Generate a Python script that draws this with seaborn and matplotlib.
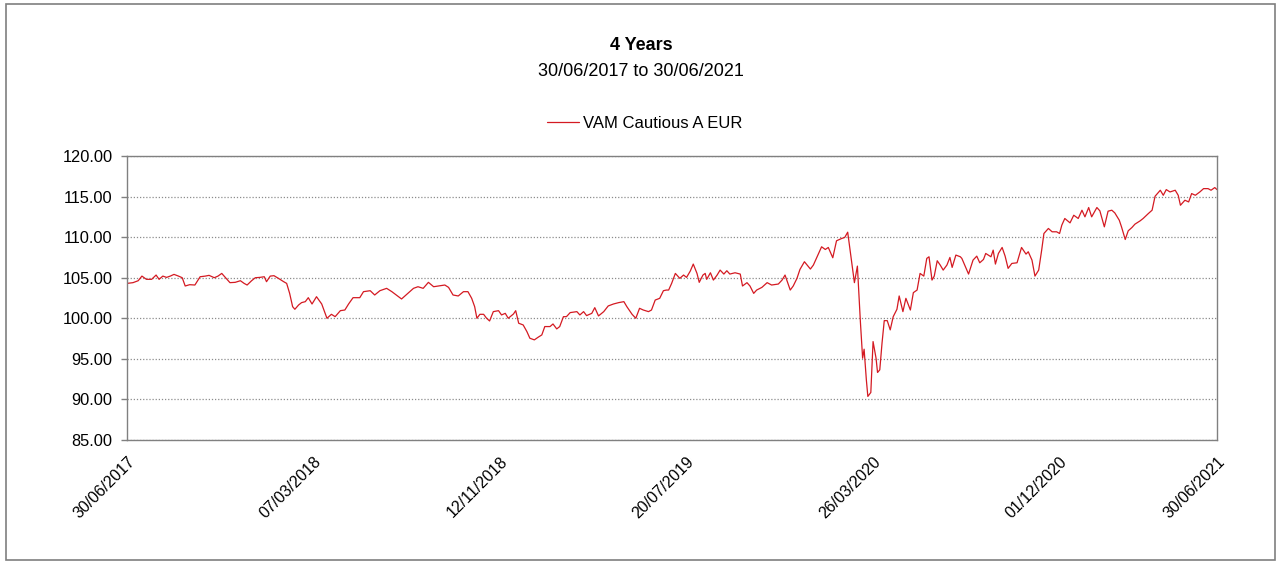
import matplotlib
matplotlib.use("Agg")
import matplotlib.pyplot as plt
from matplotlib.patches import Rectangle
import seaborn as sns
import pandas as pd

# series: days since start date and price
start_date = "2017-06-30"
end_date = "2021-06-30"

day_offsets = [
    0, 8, 15, 20, 26, 33, 39, 43, 48, 53, 58, 63, 69, 74, 78, 84, 91, 98, 105, 110,
    117, 122, 127, 131, 138, 145, 152, 157, 161, 167, 172, 178, 184, 187, 192, 197, 203, 210, 214, 218,
    222, 225, 230, 234, 239, 243,
    248, 254, 261, 268, 274, 279, 286, 292, 297, 303, 312, 317, 326, 332, 339, 348, 355, 362, 368, 375,
    384, 390, 397, 404, 411, 420, 426, 431, 437, 444, 451, 457, 462, 466, 469, 473, 478, 482, 486,
    491, 498, 502, 507, 511, 518, 521, 525, 531, 536, 540, 546, 551, 556, 560, 567, 571, 576, 580, 585,
    589, 594, 603, 607, 612, 616, 623, 627, 632, 639, 645, 652, 659, 666, 670, 677, 682, 687, 692, 699,
    703, 708, 714, 719, 723,
    726, 730, 735, 741, 746, 750, 755, 759, 764, 767, 772, 775, 777, 782, 786, 791, 795, 800, 804, 808,
    815, 822, 825, 831, 835, 840, 844, 851, 858, 864, 873, 878, 882, 889, 893, 898, 902, 908, 916, 920,
    925, 931, 936, 940, 946, 951, 958, 962, 966,
    971, 975, 979, 983, 986, 988, 991, 993, 997, 1000, 1004, 1006, 1009, 1012, 1015, 1019, 1023, 1027, 1032, 1035,
    1040, 1044, 1050, 1054, 1059, 1063, 1068, 1072, 1075, 1079, 1082, 1086,
    1090, 1094, 1099, 1103, 1106, 1111, 1117, 1119, 1128, 1134, 1139, 1143, 1148, 1151, 1158, 1161, 1164, 1168, 1173, 1177,
    1181, 1186, 1193, 1199, 1205, 1208, 1213, 1217, 1222, 1226, 1229, 1235, 1240, 1246, 1250, 1253, 1257, 1264, 1269, 1275,
    1280, 1284, 1289, 1293, 1300, 1304, 1310, 1315, 1320, 1324, 1330, 1333, 1338, 1342, 1347, 1351, 1358, 1362, 1369, 1374,
    1378, 1385, 1389, 1393, 1398, 1405, 1409, 1412, 1418, 1423, 1427, 1432, 1438, 1443, 1449, 1453, 1458, 1461,
]

nav_values = [
    104.30, 104.39, 104.63, 105.20, 104.80, 104.80, 105.33, 104.80, 105.20, 105.04,
    105.20, 105.41, 105.20, 105.00, 103.98, 104.14, 104.10, 105.12, 105.20, 105.29,
    105.00, 105.20, 105.53, 105.12, 104.39, 104.43, 104.63, 104.30, 104.10, 104.63,
    105.00, 105.04, 105.12, 104.51, 105.20, 105.25, 104.92, 104.51, 104.30, 103.07,
    101.43, 101.11, 101.64, 101.93, 102.05, 102.54,
    101.76, 102.66, 101.76, 100.00, 100.49, 100.20, 100.94, 101.02, 101.76, 102.54,
    102.54, 103.28, 103.40, 102.87, 103.40, 103.69, 103.28, 102.79, 102.38, 102.95,
    103.69, 103.89, 103.69, 104.43, 103.89, 104.02, 104.10, 103.81, 102.87, 102.75,
    103.28, 103.28, 102.46, 101.43, 100.00, 100.49, 100.49, 100.00, 99.67,
    100.82, 100.94, 100.41, 100.61, 100.00, 100.53, 100.94, 99.39, 99.18, 98.36,
    97.54, 97.34, 97.66, 97.95, 98.98, 98.98, 99.30, 98.69, 98.98, 100.20,
    100.20, 100.70, 100.82, 100.41, 100.82, 100.33, 100.61, 101.31, 100.29, 100.82,
    101.52, 101.76, 101.93, 102.05, 101.43, 100.49, 100.00, 101.23, 101.02, 100.82,
    101.02, 102.25, 102.46, 103.40, 103.48,
    103.48, 104.30, 105.53, 104.92, 105.33, 105.04, 105.82, 106.68, 105.53, 104.43,
    105.33, 105.53, 104.80, 105.61, 104.71, 105.33, 105.94, 105.45, 105.86, 105.45,
    105.61, 105.45, 103.98, 104.39, 103.98, 103.07, 103.48, 103.81, 104.39, 104.10,
    104.22, 104.71, 105.33, 103.48, 103.98, 104.92, 106.02, 106.97, 106.07, 106.56,
    107.58, 108.81, 108.48, 108.73, 107.46, 109.55, 109.84, 109.96, 110.61,
    107.17, 104.39, 106.43, 99.59, 95.08, 96.19, 92.42, 90.37, 90.86, 97.13,
    95.08, 93.32, 93.65, 96.93, 99.71, 99.71, 98.57, 100.20, 101.11, 102.75,
    100.82, 102.46, 101.02, 103.16, 103.48, 105.53, 105.20, 107.38, 107.58, 104.71,
    105.20, 107.09,
    106.56, 105.94, 106.56, 107.50, 106.27, 107.79, 107.58, 107.38, 105.45, 107.17,
    107.66, 106.84, 107.25, 107.99, 107.58, 108.40, 106.68, 107.99, 108.73, 107.66,
    106.15, 106.76, 106.84, 108.73, 107.91, 108.20, 107.17, 105.20, 105.94, 108.40,
    110.45, 111.07, 110.66, 110.66, 110.45, 111.48, 112.30, 111.76, 112.70, 112.30,
    113.32, 112.50, 113.65, 112.50, 113.65, 113.24, 111.27, 113.20, 113.32, 112.99,
    112.09, 111.27, 109.71, 110.78, 111.19, 111.60, 112.01, 112.30, 112.91, 113.32,
    115.04, 115.78, 115.16, 115.86, 115.57, 115.78, 115.16, 113.93, 114.55, 114.34,
    115.37, 115.16, 115.57, 115.98, 115.98, 115.78, 116.11, 115.86,
]

y_ticks = [85, 90, 95, 100, 105, 110, 115, 120]
x_tick_labels = ["30/06/2017", "07/03/2018", "12/11/2018", "20/07/2019",
                 "26/03/2020", "01/12/2020", "30/06/2021"]

series_name = "VAM Cautious A EUR"
title = "4 Years"
subtitle = "30/06/2017 to 30/06/2021"

sns.set_theme(style="white")
plt.rcParams["font.family"] = ["Liberation Sans", "DejaVu Sans"]
plt.rcParams["text.color"] = "black"

df = pd.DataFrame({
    "Date": pd.Timestamp(start_date) + pd.to_timedelta(day_offsets, unit="D"),
    "Value": nav_values,
})

W, H = 1282, 564
fig = plt.figure(figsize=(W / 100, H / 100), dpi=100)
fig.patch.set_facecolor("white")

# outer frame
fig.patches.append(Rectangle((6 / W, 1 - 560 / H), 1269 / W, 556 / H,
                             transform=fig.transFigure, fill=False,
                             edgecolor="#7f7f7f", linewidth=1.2))

ax = fig.add_axes([127 / W, 1 - 440 / H, 1090 / W, 284 / H])

sns.lineplot(data=df, x="Date", y="Value", ax=ax, color="#d41a22",
             linewidth=0.9, label=series_name, legend=False)

ax.set_xlim(pd.Timestamp(start_date), pd.Timestamp(end_date))
ax.set_ylim(y_ticks[0], y_ticks[-1])
ax.set_yticks(y_ticks)
ax.set_yticklabels([f"{v:.2f}" for v in y_ticks], fontsize=11.8, color="black")

tick_dates = pd.to_datetime(x_tick_labels, dayfirst=True)
ax.set_xticks(tick_dates)
ax.set_xticklabels(x_tick_labels, rotation=45, ha="right", va="top",
                   rotation_mode="anchor", fontsize=11.5, color="black")

ax.set_xlabel("")
ax.set_ylabel("")

ax.yaxis.grid(True, linestyle=(0, (1, 1.5)), color="#8c8c8c", linewidth=0.9)
ax.xaxis.grid(False)
for side in ["left", "right", "top", "bottom"]:
    ax.spines[side].set_visible(True)
    ax.spines[side].set_color("#808080")
    ax.spines[side].set_linewidth(1.0)

ax.tick_params(axis="y", which="major", direction="out", length=4,
               color="#808080", width=1, pad=6.5, left=True)
ax.tick_params(axis="x", which="major", length=0, pad=10, bottom=False)

fig.text(641 / W, 1 - 45 / H, title, ha="center", va="center",
         fontsize=13, fontweight="bold")
fig.text(641 / W, 1 - 71 / H, subtitle, ha="center", va="center", fontsize=13)

handles, labels = ax.get_legend_handles_labels()
fig.legend(handles, labels, loc="center", bbox_to_anchor=(645 / W, 1 - 123 / H),
           frameon=False, fontsize=12, handlelength=1.9, handletextpad=0.25)

fig.savefig("out.png", dpi=100, facecolor="white")
